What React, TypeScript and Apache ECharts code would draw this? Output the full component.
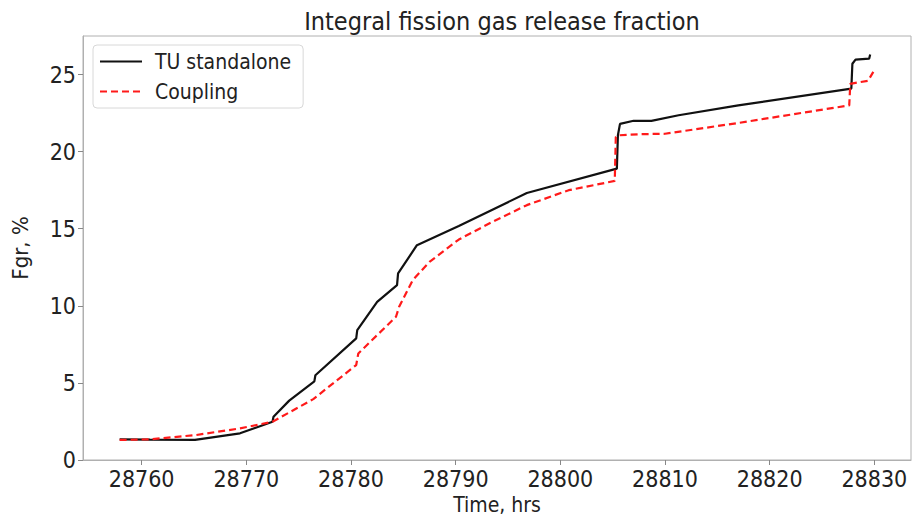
import React, { useEffect, useRef } from "react";
import * as echarts from "echarts";

const tuTime = [28757.9, 28760.8, 28765.1, 28769.4, 28772.5, 28772.6, 28774.1, 28776.5, 28776.6, 28780.5, 28780.6, 28782.5, 28784.4, 28784.5, 28786.3, 28790.3, 28796.8, 28805.4, 28805.5, 28805.7, 28807.0, 28808.7, 28811.3, 28817.0, 28827.8, 28827.9, 28828.2, 28829.5, 28829.6];
const tuFgr = [1.34, 1.32, 1.3, 1.73, 2.48, 2.8, 3.85, 5.1, 5.5, 7.89, 8.43, 10.26, 11.34, 12.1, 13.93, 15.17, 17.32, 18.9, 21.06, 21.8, 22.0, 22.0, 22.36, 23.0, 24.09, 25.7, 25.97, 26.03, 26.3];

const couplingTime = [28757.9, 28760.8, 28765.2, 28769.4, 28772.5, 28776.4, 28780.5, 28780.7, 28784.3, 28784.6, 28785.9, 28787.5, 28790.3, 28793.5, 28796.8, 28800.8, 28805.2, 28805.3, 28805.6, 28807.5, 28810.0, 28817.0, 28827.6, 28827.7, 28829.4, 28829.9];
const couplingFgr = [1.3, 1.34, 1.62, 2.05, 2.48, 3.95, 6.16, 6.91, 9.29, 9.94, 11.67, 12.85, 14.3, 15.44, 16.53, 17.5, 18.1, 20.95, 21.06, 21.13, 21.16, 21.86, 23.0, 24.4, 24.6, 25.17];

const xTicks = [28760, 28770, 28780, 28790, 28800, 28810, 28820, 28830];
const yTicks = [0, 5, 10, 15, 20, 25];

const seriesNames = ["TU standalone", "Coupling"];
const chartTitle = "Integral fission gas release fraction";
const xName = "Time, hrs";
const yName = "Fgr, %";

const FONT = "DejaVu Sans Condensed, DejaVu Sans";

export default function App() {
  const ref = useRef<HTMLDivElement>(null);
  useEffect(() => {
    if (!ref.current) return;
    const chart = echarts.init(ref.current, undefined, { renderer: "svg" });
    const zip = (xs: number[], ys: number[]) => xs.map((x, i) => [x, ys[i]]);
    chart.setOption({
      animation: false,
      backgroundColor: "#ffffff",
      title: {
        text: chartTitle,
        left: 497,
        textAlign: "center",
        top: 4,
        textStyle: { fontFamily: FONT, fontSize: 25, fontWeight: "normal", color: "#222" },
      },
      legend: {
        orient: "vertical",
        left: 93,
        top: 45,
        padding: [6, 12, 6, 6],
        itemWidth: 42,
        itemHeight: 18,
        itemGap: 9,
        borderColor: "#d8d8d8",
        borderWidth: 1,
        borderRadius: 4,
        backgroundColor: "#fff",
        itemStyle: { opacity: 0 },
        textStyle: { fontFamily: FONT, fontSize: 21, color: "#222", padding: [0, 0, 0, 8] },
        data: seriesNames,
      },
      grid: {
        left: 83,
        right: 2,
        top: 36,
        bottom: 57,
        outerBoundsMode: "none",
        containLabel: false,
        show: true,
        borderColor: "#b0b0b0",
        borderWidth: 1,
      },
      xAxis: {
        type: "value",
        min: 28754.4,
        max: 28833.5,
        name: xName,
        nameLocation: "middle",
        nameGap: 34,
        nameTextStyle: { fontFamily: FONT, fontSize: 21, color: "#222" },
        axisLine: { show: true, lineStyle: { color: "#b0b0b0", width: 1 } },
        axisTick: { show: true, length: 5, customValues: xTicks, lineStyle: { color: "#888" } },
        axisLabel: {
          customValues: xTicks,
          formatter: (v: number) => String(v),
          fontFamily: FONT,
          fontSize: 23,
          color: "#222",
          margin: 7,
        },
        splitLine: { show: false },
      },
      yAxis: {
        type: "value",
        min: 0,
        max: 27.5,
        name: yName,
        nameLocation: "middle",
        nameGap: 52,
        nameTextStyle: { fontFamily: FONT, fontSize: 22, color: "#222" },
        axisLine: { show: true, lineStyle: { color: "#b0b0b0", width: 1 } },
        axisTick: { show: true, length: 5, customValues: yTicks, lineStyle: { color: "#888" } },
        axisLabel: { customValues: yTicks, fontFamily: FONT, fontSize: 23, color: "#222", margin: 7 },
        splitLine: { show: false },
      },
      series: [
        {
          name: seriesNames[0],
          type: "line",
          data: zip(tuTime, tuFgr),
          showSymbol: false,
          symbol: "none",
          lineStyle: { color: "#111111", width: 2.2 },
          itemStyle: { color: "#111111" },
          z: 2,
        },
        {
          name: seriesNames[1],
          type: "line",
          data: zip(couplingTime, couplingFgr),
          showSymbol: false,
          symbol: "none",
          lineStyle: { color: "#ff1a1a", width: 2.2, type: [7, 4] },
          itemStyle: { color: "#ff1a1a" },
          z: 3,
        },
      ],
    });
    return () => chart.dispose();
  }, []);
  return <div ref={ref} style={{ width: 913, height: 517, position: "absolute", left: 0, top: 0 }} />;
}
